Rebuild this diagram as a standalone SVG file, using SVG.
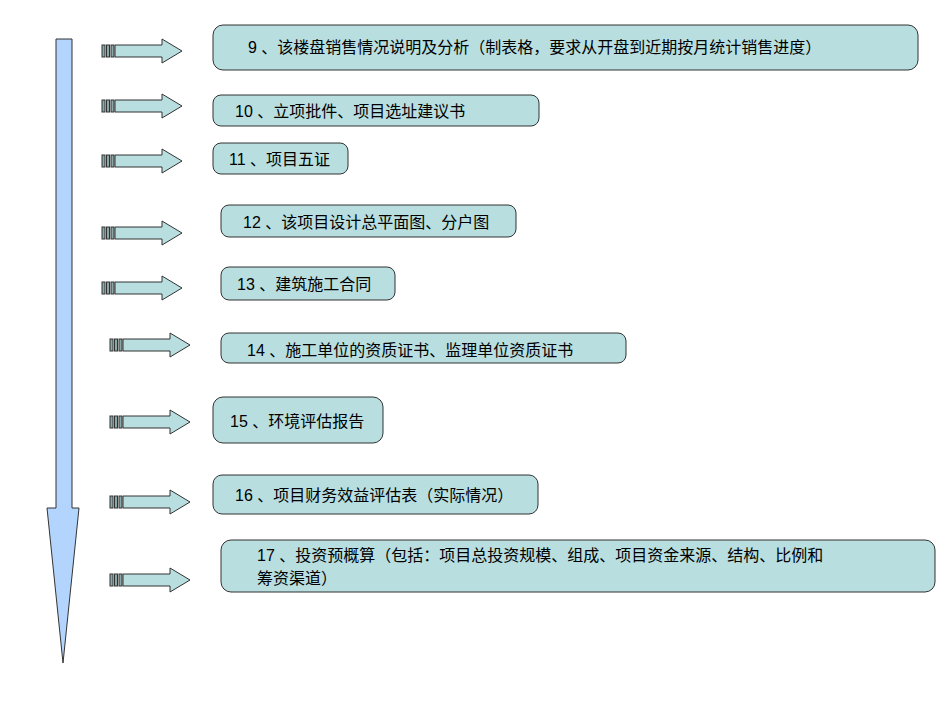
<svg xmlns="http://www.w3.org/2000/svg" width="950" height="713" viewBox="0 0 950 713">
<defs>
<style>
.box{fill:#b8dee0;stroke:#333;stroke-width:1}
.t{font-family:"Liberation Sans","Noto Sans CJK SC",sans-serif;font-size:16px;fill:#000}
.ar{fill:#b8dee0;stroke:#333;stroke-width:1}
.bar{fill:#8aa8a8;stroke:#333;stroke-width:1}
</style>
<g id="sa">
<rect class="bar" x="0" y="-6" width="3" height="12"/>
<rect class="bar" x="4.5" y="-6" width="3" height="12"/>
<rect class="bar" x="9" y="-6" width="3" height="12"/>
<path class="ar" d="M13,-6 H60 V-12 L80,0 L60,12 V6 H13 Z"/>
</g>
</defs>
<rect width="950" height="713" fill="#fff"/>
<g id="timeline">
<path d="M56,39 H72 V508 H79 L63,663 L47,508 H56 Z" fill="#b3d4fc" stroke="#333"/>
</g>
<g id="connectors">
<use href="#sa" x="102" y="51"/>
<use href="#sa" x="102" y="106"/>
<use href="#sa" x="102" y="161"/>
<use href="#sa" x="102" y="233"/>
<use href="#sa" x="102" y="288"/>
<use href="#sa" x="110" y="345"/>
<use href="#sa" x="110" y="422"/>
<use href="#sa" x="110" y="502"/>
<use href="#sa" x="110" y="580"/>
</g>
<g id="n9"><rect class="box" x="213" y="25" width="705" height="45" rx="10"/><text class="t" x="248" y="53">9 、该楼盘销售情况说明及分析（制表格，要求从开盘到近期按月统计销售进度）</text></g>
<g id="n10"><rect class="box" x="213" y="95" width="326" height="31" rx="8"/><text class="t" x="235" y="117">10 、立项批件、项目选址建议书</text></g>
<g id="n11"><rect class="box" x="213" y="143" width="135" height="31" rx="8"/><text class="t" x="229" y="165">11 、项目五证</text></g>
<g id="n12"><rect class="box" x="221" y="205" width="295" height="32" rx="8"/><text class="t" x="243" y="228">12 、该项目设计总平面图、分户图</text></g>
<g id="n13"><rect class="box" x="221" y="267" width="174" height="33" rx="8"/><text class="t" x="237" y="290">13 、建筑施工合同</text></g>
<g id="n14"><rect class="box" x="221" y="333" width="405" height="30" rx="8"/><text class="t" x="247" y="356">14 、施工单位的资质证书、监理单位资质证书</text></g>
<g id="n15"><rect class="box" x="213" y="397" width="170" height="46" rx="10"/><text class="t" x="230" y="427">15 、环境评估报告</text></g>
<g id="n16"><rect class="box" x="213" y="475" width="325" height="39" rx="9"/><text class="t" x="235" y="501">16 、项目财务效益评估表（实际情况）</text></g>
<g id="n17"><rect class="box" x="221" y="540" width="714" height="52" rx="10"/><text class="t" x="257" y="561">17 、投资预概算（包括：项目总投资规模、组成、项目资金来源、结构、比例和</text><text class="t" x="257" y="584">筹资渠道）</text></g>
</svg>
